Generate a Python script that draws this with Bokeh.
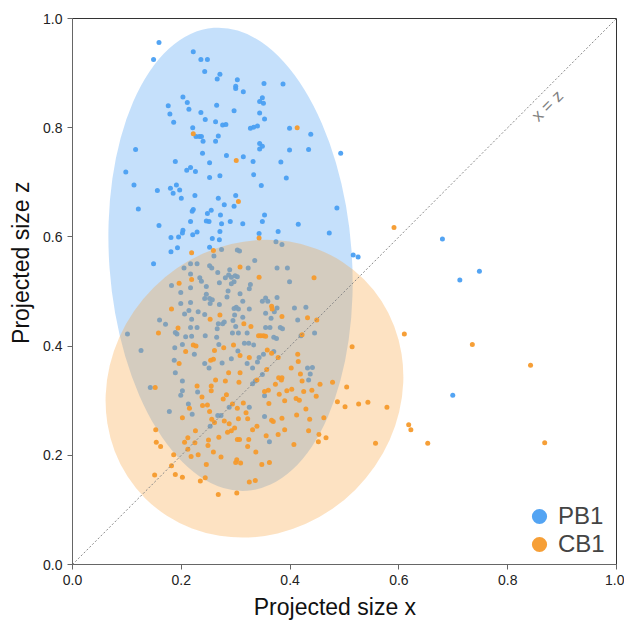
import math
from bokeh.plotting import figure
from bokeh.models import ColumnDataSource, Slope, Label, Legend, LegendItem, NumeralTickFormatter, FixedTicker
from bokeh.embed import file_html
from bokeh.resources import INLINE

# ---------------- data ----------------
pb1_x = [0.159,0.149,0.222,0.236,0.248,0.243,0.271,0.266,0.303,0.300,0.300,0.314,0.344,0.203,0.211,0.176,0.214,0.265,0.297,0.179,
         0.236,0.344,0.186,0.244,0.263,0.276,0.282,0.327,0.333,0.340,0.221,0.227,0.233,0.237,0.240,0.268,0.263,0.344,0.344,0.116,
         0.239,0.283,0.314,0.332,0.189,0.252,0.217,0.210,0.226,0.098,0.333,0.252,0.271,
         0.352,0.387,0.349,0.351,0.353,0.399,0.438,0.349,0.399,0.434,0.493,0.383,0.393,
         0.121,0.486,0.472,0.516,0.525,0.415,0.378,
         0.113,0.156,0.180,0.191,0.197,0.185,0.200,0.225,0.268,0.300,0.279,0.297,0.220,0.222,0.248,0.255,0.272,0.246,0.251,0.217,
         0.274,0.290,0.313,0.159,0.203,0.202,0.229,0.221,0.271,0.181,0.195,0.257,0.270,0.343,0.193,0.181,0.252,0.149,
         0.347,0.353,0.349,0.680,0.712,0.748,0.699,
         0.274,0.303,0.307,0.260,0.217,0.229,0.205,0.252,0.256,0.289,0.323,0.335,0.217,0.234,0.267,0.281,0.287,0.292,0.299,0.303,
         0.237,0.297,0.182,0.217,0.246,0.270,0.292,0.327,0.325,0.286,0.246,0.308,0.199,0.252,0.257,0.243,0.284,0.313,0.217,0.199,
         0.253,0.270,0.297,0.301,0.305,0.325,0.214,0.231,0.243,0.206,0.298,0.313,0.160,0.219,0.268,0.276,0.279,0.295,0.300,0.171,
         0.217,0.229,0.266,0.189,0.192,0.101,0.208,0.219,0.244,0.265,0.294,0.305,0.321,
         0.374,0.385,0.376,0.395,0.399,0.355,0.376,0.349,0.359,0.376,0.371,0.355,0.408,0.429,0.365,0.414,0.355,0.363,0.382,0.386,
         0.445,0.420,0.370,0.375,
         0.126,0.188,0.202,0.224,0.187,0.243,0.251,0.269,0.275,0.292,0.304,0.316,0.324,0.333,0.321,0.331,0.340,0.343,0.189,0.202,
         0.143,0.202,0.199,0.230,0.213,0.178,0.220,0.288,0.267,0.273,0.325,0.253,0.331,0.336,
         0.432,0.441,0.437,0.434,0.353,0.353,0.362,0.351,0.370,0.349]
pb1_z = [0.956,0.925,0.939,0.925,0.925,0.903,0.898,0.889,0.888,0.876,0.872,0.866,0.848,0.856,0.846,0.840,0.834,0.841,0.831,0.825,
         0.828,0.827,0.810,0.815,0.811,0.805,0.806,0.799,0.801,0.803,0.800,0.784,0.784,0.784,0.775,0.785,0.775,0.771,0.761,0.760,
         0.753,0.749,0.747,0.738,0.738,0.736,0.727,0.722,0.720,0.719,0.714,0.709,0.712,
         0.881,0.880,0.855,0.845,0.816,0.799,0.788,0.766,0.759,0.760,0.753,0.737,0.708,
         0.651,0.653,0.607,0.567,0.563,0.623,0.610,
         0.695,0.685,0.689,0.695,0.686,0.680,0.671,0.676,0.671,0.676,0.659,0.656,0.647,0.650,0.643,0.649,0.640,0.629,0.628,0.628,
         0.624,0.628,0.624,0.621,0.612,0.607,0.609,0.604,0.610,0.599,0.600,0.597,0.595,0.606,0.580,0.573,0.581,0.551,
         0.694,0.640,0.628,0.596,0.521,0.537,0.310,
         0.577,0.576,0.574,0.565,0.551,0.551,0.543,0.547,0.543,0.540,0.543,0.557,0.532,0.525,0.535,0.525,0.530,0.526,0.529,0.527,
         0.519,0.518,0.511,0.507,0.509,0.516,0.514,0.513,0.505,0.501,0.495,0.496,0.498,0.487,0.485,0.487,0.490,0.482,0.480,0.478,
         0.478,0.476,0.469,0.471,0.468,0.468,0.465,0.463,0.458,0.459,0.457,0.453,0.448,0.449,0.441,0.441,0.444,0.447,0.436,0.440,
         0.434,0.434,0.432,0.425,0.422,0.422,0.417,0.418,0.419,0.416,0.424,0.424,0.424,
         0.591,0.586,0.543,0.543,0.518,0.488,0.489,0.482,0.482,0.470,0.463,0.460,0.470,0.471,0.451,0.448,0.434,0.434,0.434,0.432,
         0.424,0.419,0.416,0.414,
         0.392,0.397,0.403,0.385,0.374,0.368,0.360,0.403,0.369,0.377,0.391,0.405,0.405,0.402,0.368,0.360,0.371,0.379,0.351,0.336,
         0.324,0.318,0.310,0.316,0.294,0.280,0.275,0.288,0.273,0.273,0.288,0.253,0.331,0.336,
         0.360,0.361,0.349,0.338,0.309,0.271,0.225,0.385,0.390,0.348]

cb1_x = [0.222,0.301,0.413,0.305,0.219,0.259,0.343,0.308,0.343,0.219,0.196,0.182,0.271,0.253,0.315,0.328,0.194,0.158,0.342,0.591,
         0.610,0.444,0.366,0.367,0.385,0.432,0.449,0.422,0.346,0.351,0.355,
         0.222,0.227,0.208,0.261,0.278,0.296,0.308,0.325,0.254,0.259,0.196,0.287,0.308,0.263,0.281,0.306,0.339,0.229,0.255,0.255,
         0.152,0.238,0.283,0.277,0.294,0.314,0.215,0.239,0.248,0.303,0.319,0.252,0.202,0.256,0.279,0.288,0.261,0.305,0.322,0.298,
         0.285,0.292,0.339,0.331,0.226,0.153,0.269,0.212,0.303,0.307,0.324,0.154,0.162,0.206,0.225,0.250,0.249,0.322,0.337,0.212,
         0.186,0.218,0.231,0.259,0.273,0.302,0.300,0.309,0.246,0.182,0.151,0.189,0.202,0.244,0.235,0.325,0.336,0.268,0.302,
         0.514,0.414,0.415,0.402,0.419,0.422,0.379,0.385,0.384,0.373,0.455,0.478,0.504,0.360,0.353,0.403,0.394,0.425,0.440,0.380,
         0.448,0.411,0.417,0.390,0.361,0.487,0.526,0.543,0.578,0.501,0.429,0.412,0.462,0.385,0.436,0.366,0.369,0.390,0.434,0.618,
         0.622,0.453,0.466,0.356,0.378,0.452,0.407,0.557,0.362,0.348,0.358,0.366,0.378,0.357,
         0.735,0.842,0.868,0.653]
cb1_z = [0.789,0.740,0.800,0.665,0.571,0.575,0.598,0.545,0.526,0.522,0.515,0.468,0.457,0.449,0.441,0.436,0.433,0.424,0.419,0.617,
         0.422,0.525,0.473,0.468,0.454,0.452,0.448,0.421,0.419,0.419,0.418,
         0.402,0.400,0.390,0.392,0.397,0.402,0.383,0.379,0.374,0.376,0.368,0.351,0.351,0.338,0.336,0.334,0.338,0.327,0.327,0.318,
         0.324,0.307,0.311,0.303,0.294,0.296,0.286,0.291,0.292,0.286,0.278,0.280,0.269,0.266,0.263,0.258,0.260,0.267,0.267,0.250,
         0.242,0.245,0.253,0.247,0.245,0.247,0.233,0.232,0.229,0.229,0.229,0.224,0.216,0.224,0.223,0.228,0.218,0.216,0.206,0.211,
         0.201,0.198,0.201,0.206,0.197,0.192,0.187,0.186,0.183,0.181,0.164,0.165,0.160,0.159,0.153,0.151,0.154,0.128,0.131,
         0.399,0.385,0.372,0.360,0.349,0.336,0.342,0.342,0.338,0.330,0.330,0.334,0.325,0.319,0.317,0.321,0.318,0.317,0.319,0.312,
         0.308,0.304,0.301,0.300,0.295,0.298,0.294,0.297,0.288,0.289,0.285,0.274,0.269,0.268,0.266,0.264,0.262,0.247,0.245,0.256,
         0.247,0.238,0.232,0.236,0.238,0.225,0.220,0.222,0.187,0.183,0.393,0.387,0.379,0.357,
         0.403,0.365,0.223,0.222]

groups = ["PB1", "CB1"]
# ellipse summaries: centre x, centre z, width, height, tilt (rad, counter-clockwise)
ell_cx = [0.2905, 0.3345]
ell_cz = [0.559, 0.322]
ell_w = [0.446, 0.569]
ell_h = [0.850, 0.523]
ell_tilt = [0.072, math.pi / 4]

tick_values = [0.0, 0.2, 0.4, 0.6, 0.8, 1.0]
x_title = "Projected size x"
z_title = "Projected size z"

BLUE = "#4a9ff2"
ORANGE = "#f59a2c"
FONT = "Liberation Sans"
NBSP = "\u00a0"

p = figure(width=624, height=614, frame_width=544, frame_height=546,
           x_range=(0, 1), y_range=(0, 1), output_backend="svg", toolbar_location=None,
           min_border_left=72, min_border_right=8, min_border_top=18, min_border_bottom=50)
p.xgrid.visible = False
p.ygrid.visible = False
p.outline_line_color = "#333333"
p.outline_line_width = 1

def ell(i, color, alpha):
    src = ColumnDataSource(dict(x=[ell_cx[i]], y=[ell_cz[i]], w=[ell_w[i]], h=[ell_h[i]], a=[ell_tilt[i]]))
    p.ellipse(x="x", y="y", width="w", height="h", angle="a", source=src,
              fill_color=color, fill_alpha=alpha, line_color=None)

ell(0, BLUE, 0.32)
r_pb = p.scatter(pb1_x, pb1_z, size=5, fill_color=BLUE, fill_alpha=0.95, line_color=None)
ell(1, "#f7a035", 0.30)
r_cb = p.scatter(cb1_x, cb1_z, size=5, fill_color=ORANGE, fill_alpha=0.95, line_color=None)

p.add_layout(Slope(gradient=1, y_intercept=0, line_color="#888888", line_dash="2 2", line_width=1))
p.add_layout(Label(x=0.873, y=0.84, text="x = z", angle=math.pi / 4, text_align="center",
                   text_baseline="middle", text_color="#808080", text_font_size="17px",
                   text_font=FONT))

for ax in (p.xaxis, p.yaxis):
    ax.ticker = FixedTicker(ticks=tick_values)
    ax.formatter = NumeralTickFormatter(format="0.0")
    ax.minor_tick_line_color = None
    ax.major_tick_out = 5
    ax.major_tick_in = 0
    ax.axis_line_color = "#666666"
    ax.major_tick_line_color = "#666666"
    ax.major_label_text_font = FONT
    ax.major_label_text_font_size = "14px"
    ax.major_label_text_color = "#222222"
    ax.axis_label_text_font = FONT
    ax.axis_label_text_font_size = "23px"
    ax.axis_label_text_font_style = "normal"
    ax.axis_label_text_color = "#111111"
    ax.axis_label_standoff = 6

# the reference's titles sit a little off the frame centre; pad with no-break spaces
p.xaxis.axis_label = x_title + NBSP * 3
p.yaxis.axis_label = NBSP * 9 + z_title

# two single-item legends stacked tightly (as in the reference)
for i, (r, off) in enumerate([(r_pb, 29), (r_cb, 1)]):
    lg = Legend(items=[LegendItem(label=groups[i], renderers=[r])],
                location=(448, off), glyph_width=38, glyph_height=38,
                label_standoff=0, label_text_font=FONT, label_text_font_size="24px",
                label_text_baseline="middle",
                background_fill_alpha=0, border_line_color=None, padding=0, margin=0)
    p.add_layout(lg)

open("out.html", "w").write(file_html(p, INLINE))
